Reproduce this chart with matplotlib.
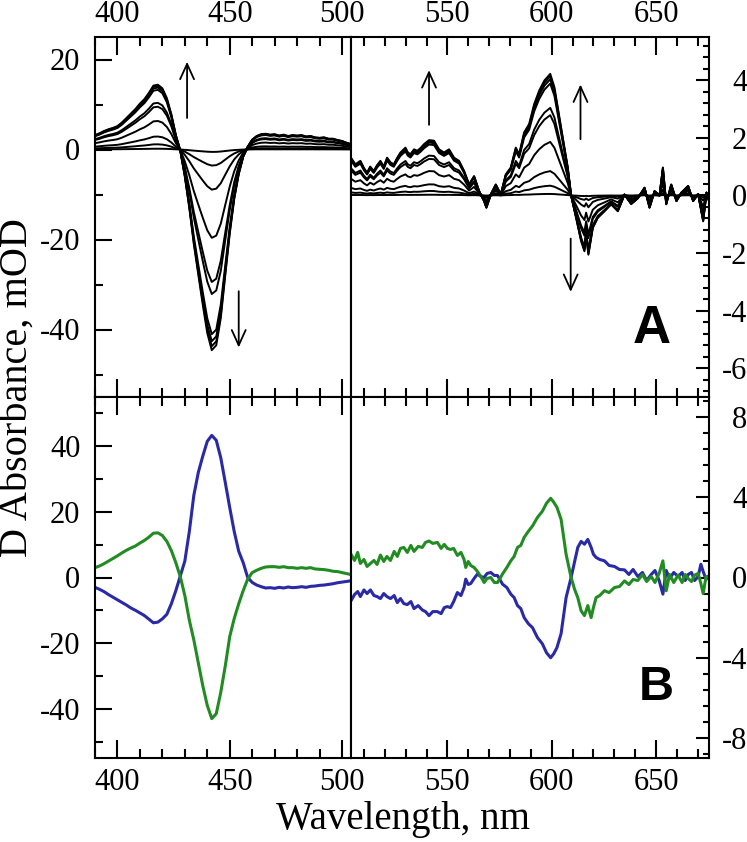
import numpy as np
import matplotlib
matplotlib.use("Agg")
import matplotlib.pyplot as plt
from matplotlib.ticker import MultipleLocator

plt.rcParams['font.family'] = ['Liberation Serif', 'DejaVu Serif']
plt.rcParams['axes.unicode_minus'] = False

# ---------------- data ----------------
# Panel A, left (Soret region): largest trace, mOD
wl_left = np.arange(390, 505, 2)
A_left_max = [3.2, 3.6, 4.1, 4.5, 4.8, 5.2, 6.0, 7.0, 8.0, 9.0,
              10.2, 11.2, 12.6, 14.2, 14.4, 13.6, 11.4, 7.8, 3.2, -0.3,
              -6.0, -13.0, -21.0, -27.8, -34.5, -40.8, -44.6, -43.5, -37.5, -28.0,
              -18.7, -11.0, -5.5, -1.6, 0.6, 2.2, 3.0, 3.4, 3.5, 3.3,
              3.4, 3.1, 3.3, 3.0, 3.2, 3.1, 3.2, 2.9, 3.0, 2.7,
              2.6, 2.7, 2.4, 2.4, 2.1, 1.9, 1.5, 1.2]
# relative size of each trace in the time series (read from trough depths)
trace_scale = [0.012, 0.08, 0.2, 0.44, 0.66, 0.72, 0.92, 0.955, 0.98, 1.0]

# Panel A, right (visible region): largest trace, mOD
wl_right_A = [503.8, 505.9, 508.3, 510, 511.5, 513, 514.7, 516.3, 517.9, 519.5,
              521.1, 522.7, 524.3, 525.9, 527.5, 529.9, 531, 532.3, 534, 535.6,
              537.2, 538.8, 541.2, 543.6, 546, 548.4, 550.8, 553.2, 555.6, 558,
              560.4, 562.8, 565.2, 567.6, 568.7, 570.8, 573.2, 575.6, 578, 580.4,
              582.8, 584.4, 586.8, 589.2, 591.6, 594, 596.5, 599.3, 601.3, 602.9,
              605.3, 607.7, 609.3, 611.7, 614.1, 615.7, 616.5, 617.6, 619.7, 622.1,
              625.3, 628.5, 631.7, 634.9, 638.1, 641.3, 644.5, 646.9, 649.3, 651.7,
              653.3, 654.9, 657.3, 659.8, 662.2, 665.4, 667.8, 670.2, 672.6, 674.2,
              675.4]
A_right_max = [1.31, 1.08, 1.2, 0.95, 0.79, 1.0, 0.85, 1.05, 1.2, 1.0,
               1.31, 1.15, 1.08, 1.3, 1.49, 1.66, 1.5, 1.43, 1.6, 1.55,
               1.65, 1.78, 1.92, 1.9, 1.6, 1.49, 1.6, 1.31, 1.2, 0.85,
               0.38, 0.67, 0.15, -0.2, -0.43, 0.03, 0.38, 0.03, 0.73, 0.97,
               1.66, 1.43, 2.19, 2.48, 3.17, 3.64, 3.99, 4.22, 3.76, 3.06,
               2.01, 0.97, 0.0, -0.78, -1.59, -1.94, -1.36, -2.06, -1.13, -0.78,
               -0.55, -0.31, -0.55, 0.03, -0.3, -0.1, 0.27, -0.43, 0.15, 0.0,
               0.97, -0.31, 0.38, -0.2, 0.1, 0.33, -0.2, 0.05, -0.9, 0.1,
               -0.2]

# Panel B, left
B_left_green = [3.0, 3.5, 4.2, 5.0, 5.8, 6.6, 7.5, 8.3, 9.0, 9.6,
                10.5, 11.3, 12.3, 13.5, 13.6, 12.8, 11.0, 8.2, 4.5, 0.2,
                -5.5, -13.0, -19.0, -26.0, -33.0, -39.0, -43.0, -41.5, -35.0, -27.0,
                -18.0, -12.5, -8.0, -4.0, -0.5, 1.5, 2.2, 2.8, 3.2, 3.3,
                3.3, 3.1, 3.3, 3.0, 3.0, 2.8, 3.0, 2.8, 3.0, 2.6,
                2.5, 2.4, 2.2, 1.9, 1.8, 1.5, 1.2, 0.9]
B_left_blue = [-3.0, -3.6, -4.3, -5.2, -6.0, -6.8, -7.6, -8.4, -9.3, -10.0,
               -10.8, -11.6, -12.7, -13.8, -13.6, -12.6, -11.2, -8.0, -4.0, 0.5,
               5.0, 14.0, 25.0, 32.0, 37.0, 41.5, 43.3, 41.8, 36.5, 29.0,
               21.3, 14.0, 8.0, 4.5, 0.0, -1.5, -2.3, -2.8, -3.2, -3.1,
               -3.3, -3.0, -3.2, -2.9, -3.1, -3.0, -2.8, -3.0, -2.7, -2.6,
               -2.4, -2.3, -2.1, -1.9, -1.6, -1.4, -1.2, -1.0]

# Panel B, right
wl_right_B = [503.8, 505.5, 507, 508.3, 510, 511.5, 513.1, 514.8, 516.3, 517.9,
              519.5, 521, 522.7, 524.5, 526, 527.5, 529.1, 530.8, 532.5, 534,
              536, 538, 539.5, 541.2, 543, 545.2, 547, 548.5, 550, 551.5,
              553, 554.8, 556.5, 558, 558.8, 560, 561.2, 562.8, 564.4, 566,
              567.6, 569, 570.8, 572.5, 574, 575.2, 576.4, 578.5, 580.4, 582,
              583.6, 585.2, 586.8, 588.8, 590.8, 593.2, 595.5, 597.5, 599.5, 601,
              602.5, 604.5, 606.9, 609.3, 611, 612.5, 614.1, 615.7, 617.3, 618.9,
              620, 621.3, 623, 625.3, 627.5, 630.1, 632.5, 634.9, 637, 639,
              641.3, 643.5, 645.5, 647.7, 649.5, 651.5, 653.3, 654.9, 656.5, 658.5,
              660.6, 662.5, 664, 665.4, 667, 668.5, 670.2, 671.5, 672.6, 674,
              675.4]
B_right_green = [1.16, 0.85, 1.25, 0.7, 0.9, 0.55, 0.7, 0.85, 0.65, 1.12,
                 0.8, 1.05, 0.85, 1.3, 1.05, 1.45, 1.5, 1.25, 1.6, 1.3,
                 1.55, 1.5, 1.75, 1.82, 1.7, 1.75, 1.45, 1.65, 1.45, 1.4,
                 1.45, 1.1, 1.25, 0.9, 0.5, 0.8, 0.6, 0.5, 0.3, 0.05,
                 -0.25, -0.05, 0.0, -0.25, -0.25, -0.05, 0.17, 0.5, 0.83, 1.05,
                 1.5, 1.6, 2.0, 2.3, 2.57, 3.0, 3.3, 3.7, 3.95, 3.75,
                 3.5, 2.9, 1.16, 0.0, -0.6, -1.0, -1.66, -1.9, -1.4, -2.0,
                 -1.5, -1.0, -0.9, -0.66, -0.75, -0.5, -0.45, -0.17, -0.35, -0.1,
                 -0.15, 0.15, -0.2, 0.05, -0.25, 0.2, 0.83, -0.66, 0.15, -0.25,
                 0.12, -0.25, 0.15, -0.05, -0.2, 0.12, 0.2, -0.3, -0.8, 0.05,
                 0.0]
B_right_blue = [-1.16, -0.85, -0.7, -0.95, -0.62, -0.8, -0.62, -0.9, -0.95, -1.05,
                -0.8, -0.95, -1.05, -0.9, -1.25, -1.05, -1.3, -1.35, -1.2, -1.55,
                -1.4, -1.62, -1.7, -1.9, -1.7, -1.7, -1.8, -1.5, -1.45, -1.5,
                -1.2, -0.75, -0.9, -0.5, -0.08, -0.35, -0.3, -0.05, 0.17, 0.05,
                0.0, 0.2, 0.25, 0.1, 0.1, -0.1, -0.33, -0.5, -0.83, -1.0,
                -1.4, -1.55, -2.0, -2.3, -2.5, -3.0, -3.3, -3.75, -4.0, -3.8,
                -3.5, -2.8, -1.0, 0.0, 0.8, 1.5, 1.8, 1.66, 1.9, 1.5,
                1.16, 1.0, 0.9, 0.83, 0.6, 0.55, 0.4, 0.38, 0.15, 0.4,
                0.05, 0.25, -0.15, 0.15, 0.35, -0.15, -0.83, 0.35, -0.05, 0.25,
                0.05, 0.25, -0.15, 0.15, 0.25, -0.15, 0.05, 0.66, 0.3, -0.1,
                0.1]

# ---------------- layout ----------------
W, H = 747, 842
fig = plt.figure(figsize=(W / 100, H / 100), dpi=100)


def fr(x0, y0, x1, y1):
    return [x0 / W, 1 - y1 / H, (x1 - x0) / W, (y1 - y0) / H]


ax_tl = fig.add_axes(fr(95, 37, 351, 397))
ax_tr = fig.add_axes(fr(351, 37, 709, 397))
ax_bl = fig.add_axes(fr(95, 397, 351, 758))
ax_br = fig.add_axes(fr(351, 397, 709, 758))

BLUE = '#2a2aa6'
GREEN = '#228b22'
TICKFS = 22

for s in trace_scale:
    ax_tl.plot(wl_left, np.array(A_left_max) * s, color='black', lw=1.4)
    ax_tr.plot(wl_right_A, np.array(A_right_max) * s, color='black', lw=1.4)

ax_bl.plot(wl_left, B_left_blue, color=BLUE, lw=2.2)
ax_bl.plot(wl_left, B_left_green, color=GREEN, lw=2.2)
ax_br.plot(wl_right_B, B_right_blue, color=BLUE, lw=2.2)
ax_br.plot(wl_right_B, B_right_green, color=GREEN, lw=2.2)

ax_tl.set_xlim(390, 504)
ax_bl.set_xlim(390, 504)
ax_tr.set_xlim(503.8, 675.4)
ax_br.set_xlim(503.8, 675.4)
ax_tl.set_ylim(-55, 25)
ax_tr.set_ylim(-7, 5.5)
ax_bl.set_ylim(-55, 55)
ax_br.set_ylim(-9, 9)

for ax in (ax_tl, ax_bl):
    ax.set_xticks([400, 450, 500])
for ax in (ax_tr, ax_br):
    ax.set_xticks([550, 600, 650])
for ax in (ax_tl, ax_tr, ax_bl, ax_br):
    ax.xaxis.set_minor_locator(MultipleLocator(10))
    for sp in ax.spines.values():
        sp.set_linewidth(1.5)
    ax.tick_params(axis='x', which='both', direction='in', top=True, bottom=True,
                   width=1.5, labelsize=TICKFS, pad=10)
    ax.tick_params(axis='x', which='major', length=13)
    ax.tick_params(axis='x', which='minor', length=6.5)

ax_tl.set_yticks([-40, -20, 0, 20])
ax_bl.set_yticks([-40, -20, 0, 20, 40])
ax_tr.set_yticks([-6, -4, -2, 0, 2, 4])
ax_br.set_yticks([-8, -4, 0, 4, 8])
ax_tl.yaxis.set_minor_locator(MultipleLocator(10))
ax_bl.yaxis.set_minor_locator(MultipleLocator(10))
ax_tr.yaxis.set_minor_locator(MultipleLocator(0.4))
ax_br.yaxis.set_minor_locator(MultipleLocator(0.8))

for ax in (ax_tl, ax_bl):
    ax.tick_params(axis='y', which='both', direction='in', left=True, right=False,
                   width=1.5, labelsize=TICKFS, pad=10.5)
    ax.tick_params(axis='y', which='major', length=12)
    ax.tick_params(axis='y', which='minor', length=6)
for ax in (ax_tr, ax_br):
    ax.tick_params(axis='y', which='both', direction='in', left=False, right=True,
                   labelleft=False, labelright=True, width=1.5, labelsize=TICKFS,
                   pad=27.5)
    ax.tick_params(axis='y', which='major', length=9.5)
    ax.tick_params(axis='y', which='minor', length=4.5)
    plt.setp(ax.get_yticklabels(), ha='right')

for ax in (ax_tl, ax_tr):
    ax.tick_params(axis='x', labeltop=True, labelbottom=False, pad=6)
for ax in (ax_bl, ax_br):
    ax.tick_params(axis='x', labeltop=False, labelbottom=True, pad=7)

# arrows in panel A
arr = dict(arrowstyle='->,head_length=0.55,head_width=0.25', lw=1.3,
           color='black', mutation_scale=20, shrinkA=0, shrinkB=0)
ax_tl.annotate('', xy=(431, 19.5), xytext=(431, 7), arrowprops=arr)
ax_tl.annotate('', xy=(454, -44), xytext=(454, -31.5), arrowprops=arr)
ax_tr.annotate('', xy=(541.2, 4.35), xytext=(541.2, 2.45), arrowprops=arr)
ax_tr.annotate('', xy=(613.8, 3.85), xytext=(613.8, 1.95), arrowprops=arr)
ax_tr.annotate('', xy=(609.1, -3.35), xytext=(609.1, -1.5), arrowprops=arr)

ax_tr.text(651.5 / W, 1 - 329 / H, 'A', transform=fig.transFigure,
           family=['Liberation Sans', 'DejaVu Sans'], weight='bold',
           fontsize=38, ha='center', va='center')
ax_br.text(656 / W, 1 - 688 / H, 'B', transform=fig.transFigure,
           family=['Liberation Sans', 'DejaVu Sans'], weight='bold',
           fontsize=35, ha='center', va='center')

fig.text(403 / W, 1 - 820 / H, 'Wavelength, nm', ha='center', va='center',
         fontsize=28)
fig.text(17 / W, 1 - 388 / H, 'D Absorbance, mOD', ha='center', va='center',
         rotation=90, fontsize=29)

fig.savefig('out.png', dpi=100)
